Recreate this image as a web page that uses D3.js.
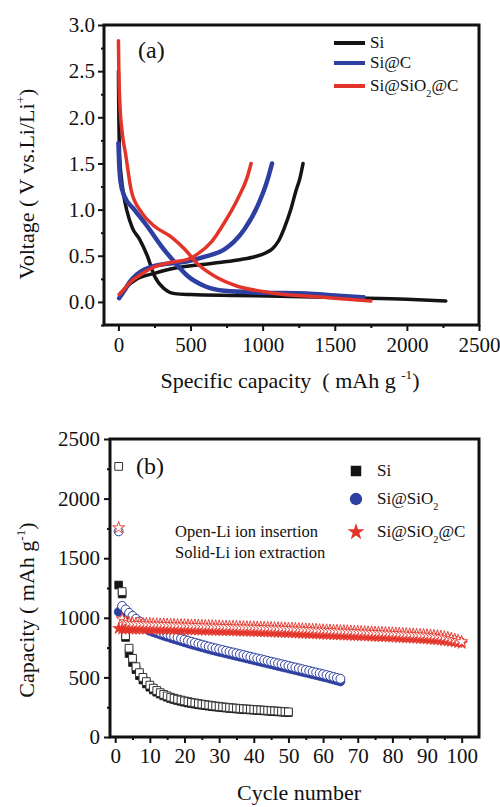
<!DOCTYPE html>
<html>
<head>
<meta charset="utf-8">
<script src="https://cdn.jsdelivr.net/npm/d3@7"></script>
<style>
  body { margin: 0; background: #fff; }
  svg text, svg tspan { font-family: "Liberation Serif", "DejaVu Serif", serif !important; fill: #111; }
</style>
</head>
<body>
<svg id="chart" width="500" height="807" font-family="Liberation Serif"></svg>
<script>
// ---------- panel (a): voltage profiles, [capacity mAh/g, voltage V] ----------
var siDischarge = [[0,2.5],[3,2.0],[8,1.6],[20,1.35],[35,1.17],[60,0.98],[97,0.8],[146,0.68],[200,0.5],[250,0.28],[320,0.14],[390,0.09],[500,0.08],[800,0.07],[1200,0.06],[1600,0.045],[2000,0.03],[2270,0.01]];
var siCharge = [[10,0.07],[50,0.15],[130,0.25],[250,0.31],[370,0.36],[550,0.40],[715,0.43],[850,0.46],[945,0.49],[1020,0.53],[1070,0.58],[1110,0.66],[1150,0.8],[1195,1.0],[1230,1.2],[1260,1.35],[1280,1.5]];
var sicDischarge = [[0,1.72],[5,1.5],[15,1.3],[40,1.15],[110,1.0],[200,0.82],[300,0.6],[390,0.43],[480,0.28],[600,0.17],[735,0.12],[1000,0.1],[1300,0.09],[1500,0.07],[1700,0.05]];
var sicCharge = [[5,0.04],[40,0.12],[80,0.22],[130,0.3],[250,0.39],[480,0.44],[600,0.49],[735,0.57],[800,0.65],[875,0.79],[965,1.04],[1035,1.33],[1065,1.5]];
var sscDischarge = [[0,2.83],[3,2.5],[10,2.15],[25,1.85],[50,1.6],[90,1.2],[160,0.97],[250,0.82],[370,0.7],[460,0.57],[550,0.41],[665,0.28],[825,0.17],[1015,0.11],[1150,0.08],[1300,0.065],[1500,0.04],[1750,0.01]];
var sscCharge = [[5,0.08],[40,0.14],[80,0.21],[130,0.27],[250,0.38],[370,0.43],[480,0.46],[550,0.52],[645,0.65],[735,0.86],[825,1.11],[895,1.36],[920,1.5]];

var legendA = ["Si", "Si@C", "Si@SiO2@C"];
var xTicksA = [0, 500, 1000, 1500, 2000, 2500];
var yTicksA = [0, 0.5, 1.0, 1.5, 2.0, 2.5, 3.0];

// ---------- panel (b): cycling, capacity (mAh/g) per cycle starting at 1 ----------
var siOpen = [2270,1220,850,745,660,590,540,500,465,435,410,390,372,357,345,334,325,317,310,303,297,291,286,281,276,272,268,264,260,256,253,250,247,244,242,239,237,235,233,231,229,227,225,223,221,219,217,215,213,211];
var siSolid = [1275,1200,835,700,625,565,515,478,445,418,395,376,360,346,334,323,314,306,299,292,286,281,276,271,267,263,259,255,252,249,246,243,240,238,235,233,231,229,227,225,223,221,219,217,215,213,211,209,207,205];
var sio2Open = [1725,1100,1070,1042,1016,992,970,950,930,912,901,891,881,871,862,853,844,835,826,817,808,799,791,783,775,767,759,751,744,737,730,723,716,709,702,695,688,681,674,667,660,653,646,639,632,625,618,611,604,597,590,583,576,569,562,555,548,541,534,527,520,512,504,496,488];
var sio2Solid = [1050,1070,1045,1018,993,970,948,928,908,890,879,869,859,849,840,831,822,813,804,795,786,777,769,761,753,745,737,729,722,715,708,701,694,687,680,673,666,659,652,645,638,631,624,617,610,603,596,589,582,575,568,561,554,547,540,533,526,519,512,505,498,490,482,474,466];
var sscOpen = [1755,990,968,960,956,954,953,952,951,950,949,948,947,946,945,944,943,942,941,940,939,938,937,936,935,934,933,932,931,930,929,928,928,927,926,925,924,924,923,922,921,920,919,918,917,916,915,914,913,912,911,909,908,906,905,904,902,901,899,898,897,895,894,893,891,890,889,888,886,885,884,882,881,880,878,877,876,875,873,872,870,869,867,866,864,862,861,859,858,856,854,851,848,844,840,834,827,819,810,800];
var sscSolid = [910,905,906,906,905,905,905,905,905,905,904,904,903,903,902,902,901,901,900,900,899,899,898,897,897,896,895,895,894,893,892,891,891,890,889,888,887,887,886,885,884,883,882,881,880,879,878,877,876,875,874,872,871,870,869,867,866,865,863,862,861,860,859,857,856,855,854,853,851,850,849,848,847,845,844,843,842,841,839,838,837,835,834,832,831,829,828,826,824,822,820,817,815,812,808,805,801,797,791,785];

var legendB = ["Si", "Si@SiO2", "Si@SiO2@C"];
var xTicksB = [0,10,20,30,40,50,60,70,80,90,100];
var yTicksB = [0,500,1000,1500,2000,2500];

var black = "#141414", blue = "#2d3fa0", red = "#e3342a";
var serif = "Liberation Serif";

var svg = d3.select("#chart");

function drawFrame(g, x0, y0, x1, y1) {
  g.append("rect")
    .attr("x", x0).attr("y", y0)
    .attr("width", x1 - x0).attr("height", y1 - y0)
    .attr("fill", "none").attr("stroke", "#111").attr("stroke-width", 3);
}

function styleAxis(ax) {
  ax.attr("font-family", serif);
  ax.select(".domain").remove();
  ax.selectAll(".tick line").attr("stroke", "#111").attr("stroke-width", 2);
  ax.selectAll(".tick text").attr("font-size", 21).attr("fill", "#111")
    .attr("font-family", serif);
}

// label with subscripts / superscripts: parts = [[text, "n"|"sub"|"sup"], ...]
function richText(t, parts, base) {
  var shift = 0;
  t.attr("font-family", serif);
  parts.forEach(function(p) {
    var target = p[1] == "sub" ? base * 0.35 : p[1] == "sup" ? -base * 0.4 : 0;
    t.append("tspan")
      .attr("dy", target - shift)
      .attr("font-size", p[1] == "n" ? base : base * 0.6)
      .text(p[0]);
    shift = target;
  });
}

// ================= panel (a) =================
var xA = d3.scaleLinear().domain([-100, 2500]).range([104, 479]);
var yA = d3.scaleLinear().domain([-0.25, 3]).range([325, 25]);
var gA = svg.append("g");

var axA = gA.append("g").attr("transform", "translate(0,325)")
  .call(d3.axisBottom(xA).tickValues(xTicksA).tickSize(6).tickPadding(6).tickFormat(d3.format("d")).tickSizeOuter(0));
styleAxis(axA);
var axAm = gA.append("g").attr("transform", "translate(0,325)")
  .call(d3.axisBottom(xA).tickValues([250,750,1250,1750,2250]).tickSize(3).tickFormat("").tickSizeOuter(0));
styleAxis(axAm);
var ayA = gA.append("g").attr("transform", "translate(104,0)")
  .call(d3.axisLeft(yA).tickValues(yTicksA).tickSize(6).tickPadding(3).tickFormat(d3.format(".1f")).tickSizeOuter(0));
styleAxis(ayA);
var ayAm = gA.append("g").attr("transform", "translate(104,0)")
  .call(d3.axisLeft(yA).tickValues([-0.25,0.25,0.75,1.25,1.75,2.25,2.75]).tickSize(3).tickFormat("").tickSizeOuter(0));
styleAxis(ayAm);

var lineA = d3.line()
  .x(function(d){ return xA(d[0]); })
  .y(function(d){ return yA(d[1]); })
  .curve(d3.curveMonotoneX);

var curvesA = [
  {data: siDischarge, color: black, w: 3.5},
  {data: siCharge, color: black, w: 3.5},
  {data: sicDischarge, color: blue, w: 4.5},
  {data: sicCharge, color: blue, w: 4.5},
  {data: sscDischarge, color: red, w: 3.5},
  {data: sscCharge, color: red, w: 3.5}
];
curvesA.forEach(function(c) {
  gA.append("path").datum(c.data)
    .attr("fill", "none").attr("stroke", c.color)
    .attr("stroke-width", c.w).attr("stroke-linecap", "round")
    .attr("d", lineA);
});

drawFrame(gA, 104, 25, 479, 325);

gA.append("text").attr("x", 138).attr("y", 58).attr("font-size", 24).attr("font-family", serif).text("(a)");

var legColorsA = [black, blue, red];
legendA.forEach(function(name, i) {
  var yy = [43, 63, 86][i];
  gA.append("line").attr("x1", 334).attr("x2", 365).attr("y1", yy).attr("y2", yy)
    .attr("stroke", legColorsA[i]).attr("stroke-width", 4);
  var t = gA.append("text").attr("x", 370).attr("y", yy + 5).attr("font-family", serif);
  if (name == "Si@SiO2@C") richText(t, [["Si@SiO","n"],["2","sub"],["@C","n"]], 17);
  else t.attr("font-size", 17).text(name);
});

// axis titles (a)
var tx = gA.append("text").attr("x", 290).attr("y", 388).attr("text-anchor", "middle");
richText(tx, [["Specific capacity \u00a0( mAh g ","n"],["-1","sup"],[")","n"]], 22);
var ty = gA.append("text").attr("transform", "translate(34,184) rotate(-90)").attr("text-anchor", "middle");
richText(ty, [["Voltage ( V vs.Li/Li","n"],["+","sup"],[")","n"]], 22);

// ================= panel (b) =================
var xB = d3.scaleLinear().domain([-1.5, 105]).range([110, 479]);
var yB = d3.scaleLinear().domain([0, 2500]).range([737, 439]);
var gB = svg.append("g");

var axB = gB.append("g").attr("transform", "translate(0,737)")
  .call(d3.axisBottom(xB).tickValues(xTicksB).tickSize(6).tickPadding(5).tickFormat(d3.format("d")).tickSizeOuter(0));
styleAxis(axB);
var axBm = gB.append("g").attr("transform", "translate(0,737)")
  .call(d3.axisBottom(xB).tickValues([5,15,25,35,45,55,65,75,85,95]).tickSize(3).tickFormat("").tickSizeOuter(0));
styleAxis(axBm);
var ayB = gB.append("g").attr("transform", "translate(110,0)")
  .call(d3.axisLeft(yB).tickValues(yTicksB).tickSize(6).tickPadding(4).tickFormat(d3.format("d")).tickSizeOuter(0));
styleAxis(ayB);
var ayBm = gB.append("g").attr("transform", "translate(110,0)")
  .call(d3.axisLeft(yB).tickValues([250,750,1250,1750,2250]).tickSize(3).tickFormat("").tickSizeOuter(0));
styleAxis(ayBm);

var sq = d3.symbol().type(d3.symbolSquare).size(60);
var ci = d3.symbol().type(d3.symbolCircle).size(62);
var st = d3.symbol().type(d3.symbolStar).size(44);

function drawSeries(vals, sym, fill, stroke, sw) {
  gB.append("g").selectAll("path").data(vals).enter().append("path")
    .attr("d", sym)
    .attr("transform", function(d, i){ return "translate(" + xB(i + 1) + "," + yB(d) + ")"; })
    .attr("fill", fill).attr("stroke", stroke).attr("stroke-width", sw);
}

drawSeries(siSolid, sq, black, black, 0.8);
drawSeries(siOpen, sq, "#fff", "#333", 1);
drawSeries(sio2Solid, ci, blue, blue, 0.8);
drawSeries(sio2Open, ci, "#fff", blue, 1);
drawSeries(sscSolid, st, red, red, 0.6);
drawSeries(sscOpen, st, "#fff", red, 0.9);

drawFrame(gB, 110, 439, 479, 737);

gB.append("text").attr("x", 136).attr("y", 474).attr("font-size", 24).attr("font-family", serif).text("(b)");

gB.append("text").attr("x", 175).attr("y", 537).attr("font-size", 16.5).attr("font-family", serif).text("Open-Li ion insertion");
gB.append("text").attr("x", 175).attr("y", 558).attr("font-size", 16.5).attr("font-family", serif).text("Solid-Li ion extraction");

var legSyms = [
  d3.symbol().type(d3.symbolSquare).size(110),
  d3.symbol().type(d3.symbolCircle).size(120),
  d3.symbol().type(d3.symbolStar).size(90)
];
var legCols = [black, blue, red];
legendB.forEach(function(name, i) {
  var yy = [471, 499, 532][i];
  gB.append("path").attr("d", legSyms[i]).attr("transform", "translate(356," + yy + ")")
    .attr("fill", legCols[i]);
  var t = gB.append("text").attr("x", 377).attr("y", yy + 5).attr("font-family", serif);
  if (name == "Si@SiO2") richText(t, [["Si@SiO","n"],["2","sub"]], 17);
  else if (name == "Si@SiO2@C") richText(t, [["Si@SiO","n"],["2","sub"],["@C","n"]], 17);
  else t.attr("font-size", 17).text(name);
});

gB.append("text").attr("x", 299).attr("y", 800).attr("text-anchor", "middle")
  .attr("font-size", 22).attr("font-family", serif).text("Cycle number");
var tby = gB.append("text").attr("transform", "translate(34,610) rotate(-90)").attr("text-anchor", "middle");
richText(tby, [["Capacity ( mAh g","n"],["-1","sup"],[")","n"]], 22);
</script>
</body>
</html>
